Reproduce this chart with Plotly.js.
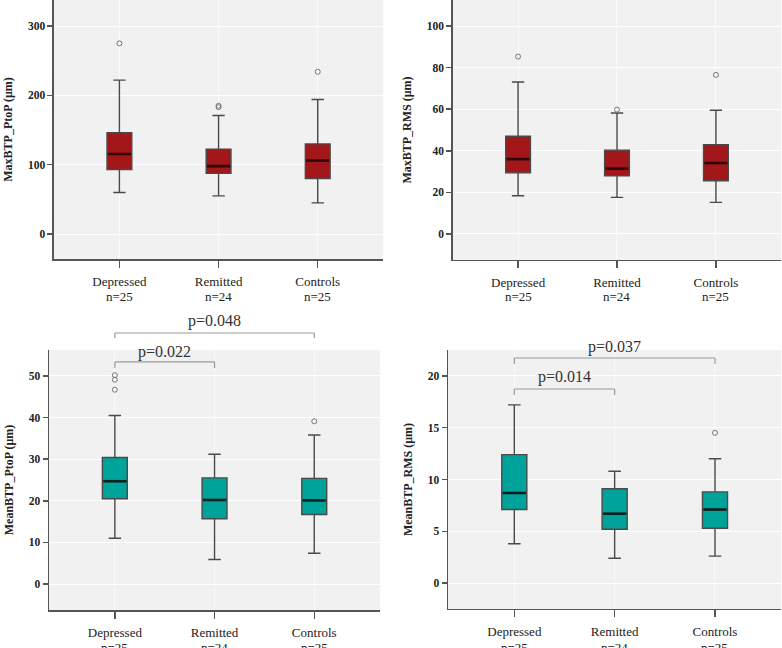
<!DOCTYPE html>
<html>
<head>
<meta charset="utf-8">
<script src="https://cdn.plot.ly/plotly-3.0.1.min.js"></script>
<style>html,body{margin:0;padding:0;background:#fff}#chart{width:782px;height:648px}</style>
</head>
<body>
<div id="chart"></div>
<script>
// ---------- data ----------
const groups = ["Depressed", "Remitted", "Controls"];
const nLabels = ["n=25", "n=24", "n=25"];

// MaxBTP_PtoP (µm)
const maxPtoP_q1 = [93, 87.5, 80];
const maxPtoP_med = [115.5, 98, 106];
const maxPtoP_q3 = [146, 122.5, 130];
const maxPtoP_lo = [60, 55, 45];
const maxPtoP_hi = [222, 171, 194];
const maxPtoP_out = [[275], [183, 185], [234]];

// MaxBTP_RMS (µm)
const maxRMS_q1 = [29.4, 28, 25.6];
const maxRMS_med = [36, 31.4, 34.1];
const maxRMS_q3 = [47, 40.3, 42.9];
const maxRMS_lo = [18.4, 17.6, 15.2];
const maxRMS_hi = [73.1, 58.2, 59.5];
const maxRMS_out = [[85.3], [59.8], [76.5]];

// MeanBTP_PtoP (µm)
const meanPtoP_q1 = [20.5, 15.7, 16.7];
const meanPtoP_med = [24.7, 20.2, 20.1];
const meanPtoP_q3 = [30.4, 25.5, 25.4];
const meanPtoP_lo = [11, 5.9, 7.4];
const meanPtoP_hi = [40.5, 31.2, 35.8];
const meanPtoP_out = [[50.2, 49.1, 46.7], [], [39.1]];

// MeanBTP_RMS (µm)
const meanRMS_q1 = [7.1, 5.2, 5.3];
const meanRMS_med = [8.7, 6.7, 7.1];
const meanRMS_q3 = [12.4, 9.1, 8.8];
const meanRMS_lo = [3.8, 2.4, 2.6];
const meanRMS_hi = [17.2, 10.8, 12.0];
const meanRMS_out = [[], [], [14.5]];

// significance brackets (group index from/to, label)
const meanPtoP_sig = [[0, 1, "p=0.022"], [0, 2, "p=0.048"]];
const meanRMS_sig = [[0, 1, "p=0.014"], [0, 2, "p=0.037"]];

// ---------- styling ----------
const FONT = "'Liberation Serif', 'Times New Roman', serif";
const RED = "#A3161A", TEAL = "#00A39A";

const panels = [
  {ax: "", q1: maxPtoP_q1, med: maxPtoP_med, q3: maxPtoP_q3, lo: maxPtoP_lo, hi: maxPtoP_hi, out: maxPtoP_out,
   fill: RED, medc: "#2e0405", title: "MaxBTP_PtoP (μm)", xd: [0.069, 0.490], yd: [0.6003, 1.0],
   yr: [-36, 337.5], dt: 100, nY: 0.5571, sig: [], sigY: []},
  {ax: "2", q1: maxRMS_q1, med: maxRMS_med, q3: maxRMS_q3, lo: maxRMS_lo, hi: maxRMS_hi, out: maxRMS_out,
   fill: RED, medc: "#2e0405", title: "MaxBTP_RMS (μm)", xd: [0.579, 0.999], yd: [0.5988, 1.0],
   yr: [-12.5, 112.5], dt: 20, nY: 0.5571, sig: [], sigY: []},
  {ax: "3", q1: meanPtoP_q1, med: meanPtoP_med, q3: meanPtoP_q3, lo: meanPtoP_lo, hi: meanPtoP_hi, out: meanPtoP_out,
   fill: TEAL, medc: "#0c1f1e", title: "MeanBTP_PtoP (μm)", xd: [0.0627, 0.486], yd: [0.0586, 0.4599],
   yr: [-6.25, 56.25], dt: 10, nY: 0.016, sig: meanPtoP_sig, sigY: [[0.4414, 0.4321, 0.4568], [0.4861, 0.4784, 0.5046]]},
  {ax: "4", q1: meanRMS_q1, med: meanRMS_med, q3: meanRMS_q3, lo: meanRMS_lo, hi: meanRMS_hi, out: meanRMS_out,
   fill: TEAL, medc: "#0c1f1e", title: "MeanBTP_RMS (μm)", xd: [0.573, 0.999], yd: [0.0602, 0.4599],
   yr: [-2.5, 22.5], dt: 5, nY: 0.016, sig: meanRMS_sig, sigY: [[0.3997, 0.3904, 0.4182], [0.4475, 0.4383, 0.4645]]}
];

const traces = [];
const layout = {
  width: 782, height: 648, margin: {l: 0, r: 0, t: 0, b: 0},
  paper_bgcolor: "#ffffff", plot_bgcolor: "#F1F1F1", showlegend: false,
  font: {family: FONT, color: "#222"}, shapes: [], annotations: []
};

panels.forEach(p => {
  const xa = "x" + p.ax, ya = "y" + p.ax;
  traces.push({
    type: "box", x: groups, q1: p.q1, median: p.med, q3: p.q3,
    lowerfence: p.lo, upperfence: p.hi, xaxis: xa, yaxis: ya,
    fillcolor: p.fill, line: {color: "#4a4a4a", width: 1.4},
    width: 0.25, whiskerwidth: 0.5, boxpoints: false, hoverinfo: "skip"
  });
  // thicker median line
  traces.push({
    type: "scatter", mode: "markers", x: groups, y: p.med, xaxis: xa, yaxis: ya,
    marker: {symbol: "line-ew", size: 16.5, line: {color: p.medc, width: 2.6}}, hoverinfo: "skip"
  });
  // outliers
  const ox = [], oy = [];
  p.out.forEach((vals, i) => vals.forEach(v => { ox.push(groups[i]); oy.push(v); }));
  traces.push({
    type: "scatter", mode: "markers", x: ox, y: oy, xaxis: xa, yaxis: ya,
    marker: {symbol: "circle-open", size: 5, color: "#777", line: {width: 1, color: "#777"}}, hoverinfo: "skip"
  });

  layout["xaxis" + p.ax] = {
    domain: p.xd, anchor: ya, type: "category", categoryorder: "array", categoryarray: groups,
    range: [-0.66, 2.66], showline: true, linecolor: "#555", linewidth: 1.5,
    ticks: "outside", ticklen: 7, tickcolor: "#555", tickwidth: 1.5,
    showgrid: true, gridcolor: "#fafafa", gridwidth: 1, zeroline: false,
    tickfont: {family: FONT, size: 13, color: "#222"}, ticklabelstandoff: 3, fixedrange: true
  };
  layout["yaxis" + p.ax] = {
    domain: p.yd, anchor: xa, range: p.yr, dtick: p.dt, tick0: 0,
    showline: true, linecolor: "#555", linewidth: 1.5,
    ticks: "outside", ticklen: 5, tickcolor: "#555", tickwidth: 1.5,
    showgrid: true, gridcolor: "#ffffff", gridwidth: 1, zeroline: false,
    tickfont: {family: FONT, size: 11.5, color: "#222", weight: "bold"},
    title: {text: "<b>" + p.title + "</b>", font: {family: FONT, size: 12, color: "#222"}, standoff: 12},
    fixedrange: true
  };
  // n= labels under the group names
  groups.forEach((g, i) => {
    layout.annotations.push({
      xref: xa, yref: "paper", x: g, y: p.nY, text: nLabels[i], showarrow: false,
      yanchor: "top", font: {family: FONT, size: 13, color: "#222"}
    });
  });
  // significance brackets
  p.sig.forEach((s, k) => {
    const [a, b, txt] = s; const [yb, yd, yl] = p.sigY[k];
    const line = {color: "#9a9a9a", width: 1.2};
    layout.shapes.push({type: "line", xref: xa, yref: "paper", x0: a, x1: b, y0: yb, y1: yb, line});
    layout.shapes.push({type: "line", xref: xa, yref: "paper", x0: a, x1: a, y0: yb, y1: yd, line});
    layout.shapes.push({type: "line", xref: xa, yref: "paper", x0: b, x1: b, y0: yb, y1: yd, line});
    layout.annotations.push({
      xref: xa, yref: "paper", x: (a + b) / 2, y: yl, text: txt, showarrow: false,
      font: {family: FONT, size: 16, color: "#333"}
    });
  });
});

Plotly.newPlot("chart", traces, layout, {displayModeBar: false, staticPlot: true});
</script>
</body>
</html>
